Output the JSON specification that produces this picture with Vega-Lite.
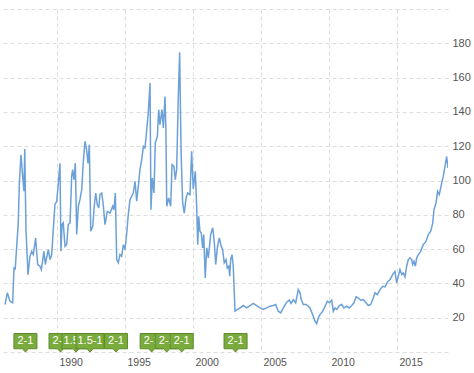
{
  "$schema": "https://vega.github.io/schema/vega-lite/v6.json",
  "width": 448,
  "height": 343,
  "autosize": {"type": "none"},
  "padding": {"left": 0, "top": 9, "right": 26, "bottom": 21},
  "background": "#ffffff",
  "config": {"view": {"stroke": null}},
  "datasets": {
    "series": [
      {"t":1986.18,"v":27.7},{"t":1986.35,"v":34.5},{"t":1986.54,"v":29.6},{"t":1986.74,"v":28.7},{"t":1986.84,"v":49},{"t":1986.93,"v":48.5},
      {"t":1987.15,"v":75},{"t":1987.23,"v":97.6},{"t":1987.35,"v":115},{"t":1987.48,"v":102},{"t":1987.57,"v":93.7},{"t":1987.63,"v":118.4},
      {"t":1987.72,"v":71},{"t":1987.87,"v":45},{"t":1988.01,"v":55.8},{"t":1988.14,"v":58.7},{"t":1988.26,"v":56.8},{"t":1988.43,"v":66.5},
      {"t":1988.58,"v":51},{"t":1988.75,"v":50},{"t":1988.85,"v":48},{"t":1989.04,"v":58.7},{"t":1989.14,"v":51},{"t":1989.36,"v":59.7},
      {"t":1989.49,"v":53.9},{"t":1989.61,"v":56.8},{"t":1989.73,"v":71.4},{"t":1989.85,"v":86},{"t":1989.98,"v":87.9},{"t":1990.10,"v":98.6},
      {"t":1990.22,"v":110},{"t":1990.29,"v":58.7},{"t":1990.37,"v":74.3},{"t":1990.46,"v":75.3},{"t":1990.59,"v":61.6},{"t":1990.71,"v":62.6},
      {"t":1990.83,"v":74.3},{"t":1990.96,"v":75.3},{"t":1991.08,"v":102.4},{"t":1991.15,"v":106.3},{"t":1991.25,"v":100.5},{"t":1991.35,"v":110.2},
      {"t":1991.45,"v":68.5},{"t":1991.57,"v":85},{"t":1991.69,"v":88.8},{"t":1991.82,"v":94.7},{"t":1991.93,"v":110.2},{"t":1992.06,"v":122.8},
      {"t":1992.18,"v":118},{"t":1992.28,"v":110},{"t":1992.38,"v":120.9},{"t":1992.48,"v":70.4},{"t":1992.63,"v":73.3},{"t":1992.74,"v":85},
      {"t":1992.85,"v":92.7},{"t":1992.96,"v":86},{"t":1993.07,"v":84},{"t":1993.16,"v":91.8},{"t":1993.29,"v":92.7},{"t":1993.40,"v":86},
      {"t":1993.53,"v":74.3},{"t":1993.70,"v":82},{"t":1993.90,"v":81},{"t":1994.10,"v":85},{"t":1994.19,"v":83},{"t":1994.29,"v":92.7},
      {"t":1994.39,"v":53.9},{"t":1994.51,"v":52},{"t":1994.63,"v":56.8},{"t":1994.76,"v":55.8},{"t":1994.88,"v":62.6},{"t":1995.00,"v":59.7},
      {"t":1995.13,"v":69.4},{"t":1995.24,"v":80},{"t":1995.37,"v":88.8},{"t":1995.49,"v":90.8},{"t":1995.61,"v":92.7},{"t":1995.74,"v":99.5},
      {"t":1995.86,"v":87.9},{"t":1995.98,"v":96.6},{"t":1996.10,"v":106.3},{"t":1996.23,"v":112.1},{"t":1996.35,"v":119.9},{"t":1996.47,"v":119},
      {"t":1996.60,"v":129.6},{"t":1996.71,"v":139.4},{"t":1996.84,"v":156.8},{"t":1996.91,"v":83},{"t":1997.01,"v":101.5},{"t":1997.13,"v":92.7},
      {"t":1997.23,"v":121.9},{"t":1997.38,"v":125.7},{"t":1997.48,"v":141.3},{"t":1997.57,"v":132.5},{"t":1997.72,"v":141.3},{"t":1997.82,"v":130.6},
      {"t":1997.94,"v":149},{"t":1998.01,"v":129.6},{"t":1998.07,"v":85},{"t":1998.21,"v":89.8},{"t":1998.36,"v":85},{"t":1998.46,"v":109.2},
      {"t":1998.60,"v":108.2},{"t":1998.70,"v":100.5},{"t":1998.80,"v":106.3},{"t":1998.92,"v":149},{"t":1999.02,"v":174.7},{"t":1999.12,"v":118},
      {"t":1999.24,"v":86.9},{"t":1999.36,"v":81},{"t":1999.49,"v":89.8},{"t":1999.61,"v":92.7},{"t":1999.78,"v":91.8},{"t":1999.90,"v":117},
      {"t":2000.02,"v":95},{"t":2000.17,"v":105.3},{"t":2000.27,"v":85},{"t":2000.35,"v":62.6},{"t":2000.42,"v":79.1},{"t":2000.51,"v":70.4},
      {"t":2000.61,"v":69.4},{"t":2000.71,"v":60.7},{"t":2000.79,"v":68.5},{"t":2000.90,"v":43.2},{"t":2001.01,"v":60.7},{"t":2001.13,"v":54.9},
      {"t":2001.30,"v":68.5},{"t":2001.45,"v":72.4},{"t":2001.57,"v":63.6},{"t":2001.67,"v":51},{"t":2001.79,"v":60.7},{"t":2001.93,"v":66.5},
      {"t":2002.08,"v":61.6},{"t":2002.18,"v":59.7},{"t":2002.30,"v":52},{"t":2002.43,"v":53.9},{"t":2002.52,"v":49},{"t":2002.63,"v":50},
      {"t":2002.70,"v":44.2},{"t":2002.77,"v":53.9},{"t":2002.87,"v":56.8},{"t":2002.96,"v":50},{"t":2003.09,"v":23.8},{"t":2003.46,"v":25.7},
      {"t":2003.70,"v":27.1},{"t":2003.95,"v":25.7},{"t":2004.19,"v":27.1},{"t":2004.43,"v":28.3},{"t":2004.68,"v":27.1},{"t":2004.93,"v":25.7},
      {"t":2005.17,"v":24.8},{"t":2005.42,"v":25.7},{"t":2005.66,"v":26.7},{"t":2005.90,"v":27.1},{"t":2006.08,"v":27.7},{"t":2006.27,"v":23.8},
      {"t":2006.45,"v":22.8},{"t":2006.64,"v":25.7},{"t":2006.89,"v":29},{"t":2007.08,"v":30.2},{"t":2007.21,"v":28.3},{"t":2007.38,"v":30.6},
      {"t":2007.55,"v":28.7},{"t":2007.74,"v":36.4},{"t":2007.87,"v":34.5},{"t":2007.96,"v":30.6},{"t":2008.11,"v":27.7},{"t":2008.31,"v":27.7},
      {"t":2008.48,"v":26.7},{"t":2008.60,"v":25.7},{"t":2008.80,"v":21.8},{"t":2008.97,"v":17.9},{"t":2009.10,"v":16.6},{"t":2009.21,"v":19.9},
      {"t":2009.34,"v":21.8},{"t":2009.54,"v":23.8},{"t":2009.71,"v":26.7},{"t":2009.88,"v":29.6},{"t":2010.03,"v":28.7},{"t":2010.20,"v":30.2},
      {"t":2010.32,"v":23.8},{"t":2010.44,"v":25.7},{"t":2010.57,"v":24.8},{"t":2010.76,"v":27.1},{"t":2010.93,"v":27.7},{"t":2011.10,"v":25.7},
      {"t":2011.30,"v":26.7},{"t":2011.49,"v":25.7},{"t":2011.67,"v":27.1},{"t":2011.84,"v":28.7},{"t":2011.99,"v":32.2},{"t":2012.15,"v":31.6},
      {"t":2012.33,"v":30.2},{"t":2012.52,"v":30.6},{"t":2012.72,"v":28.7},{"t":2012.89,"v":27.1},{"t":2013.07,"v":27.7},{"t":2013.26,"v":31.6},
      {"t":2013.38,"v":34.5},{"t":2013.55,"v":33.5},{"t":2013.75,"v":36.4},{"t":2013.95,"v":38.3},{"t":2014.12,"v":38},{"t":2014.29,"v":40.7},
      {"t":2014.49,"v":42.2},{"t":2014.68,"v":45.1},{"t":2014.85,"v":47},{"t":2014.98,"v":40.3},{"t":2015.10,"v":44.2},{"t":2015.22,"v":48},
      {"t":2015.35,"v":45.1},{"t":2015.46,"v":46.1},{"t":2015.59,"v":43.8},{"t":2015.71,"v":50},{"t":2015.83,"v":53.9},{"t":2015.96,"v":54.9},
      {"t":2016.08,"v":53.9},{"t":2016.15,"v":51},{"t":2016.25,"v":52.9},{"t":2016.35,"v":50},{"t":2016.45,"v":54.9},{"t":2016.57,"v":56.8},
      {"t":2016.74,"v":58.7},{"t":2016.93,"v":62.6},{"t":2017.13,"v":64.5},{"t":2017.30,"v":68.5},{"t":2017.48,"v":70.4},{"t":2017.63,"v":75.3},
      {"t":2017.72,"v":83},{"t":2017.87,"v":86.9},{"t":2017.99,"v":93.7},{"t":2018.11,"v":91.8},{"t":2018.29,"v":98.6},{"t":2018.40,"v":102.4},
      {"t":2018.53,"v":108.2},{"t":2018.65,"v":114},{"t":2018.75,"v":107.3}
    ],
    "splits": [
      {"n":1,"t":1987.68,"label":"2-1"},
      {"n":2,"t":1990.26,"label":"2-1"},
      {"n":3,"t":1991.40,"label":"1.5-1"},
      {"n":4,"t":1992.43,"label":"1.5-1"},
      {"n":5,"t":1994.34,"label":"2-1"},
      {"n":6,"t":1996.96,"label":"2-1"},
      {"n":7,"t":1998.07,"label":"2-1"},
      {"n":8,"t":1999.17,"label":"2-1"},
      {"n":9,"t":2003.13,"label":"2-1"}
    ]
  },
  "encoding": {
    "x": {
      "field": "t", "type": "quantitative",
      "scale": {"domain": [1985.81, 2018.75], "nice": false, "zero": false},
      "axis": {
        "values": [1990, 1995, 2000, 2005, 2010, 2015], "format": "d", "title": null,
        "domain": false, "ticks": false, "grid": true, "gridDash": [4, 3], "gridColor": "#dcdcdc",
        "labelAlign": "left", "labelOffset": 2, "labelPadding": 5, "labelFontSize": 10.5,
        "labelColor": "#555555", "labelFont": "Liberation Sans", "labelOverlap": false
      }
    }
  },
  "layer": [
    {
      "data": {"name": "series"},
      "mark": {"type": "line", "color": "#6ca0d8", "strokeWidth": 1.5, "clip": true},
      "encoding": {
        "y": {
          "field": "v", "type": "quantitative",
          "scale": {"domain": [0, 200], "nice": false},
          "axis": {
            "orient": "right", "values": [0, 20, 40, 60, 80, 100, 120, 140, 160, 180, 200],
            "labelExpr": "datum.value == 0 || datum.value == 200 ? '' : datum.label",
            "title": null, "domain": false, "ticks": false, "grid": true, "gridDash": [4, 3], "gridColor": "#dcdcdc",
            "labelPadding": 4, "labelFontSize": 11, "labelColor": "#555555", "labelFont": "Liberation Sans", "labelOverlap": false
          }
        }
      }
    },
    {"data": {"name": "splits"}, "transform": [{"filter": {"field": "n", "oneOf": [1, 2, 6, 9]}}],
     "encoding": {"y": {"datum": 0, "type": "quantitative", "scale": {"domain": [0, 200], "nice": false},
          "axis": {
            "orient": "right", "values": [0, 20, 40, 60, 80, 100, 120, 140, 160, 180, 200],
            "labelExpr": "datum.value == 0 || datum.value == 200 ? '' : datum.label",
            "title": null, "domain": false, "ticks": false, "grid": true, "gridDash": [4, 3], "gridColor": "#dcdcdc",
            "labelPadding": 4, "labelFontSize": 11, "labelColor": "#555555", "labelFont": "Liberation Sans", "labelOverlap": false
          }}},
     "layer": [
       {"mark": {"type": "point", "filled": true, "fill": "#7aab3c", "stroke": "#5e8c2c", "strokeWidth": 1, "opacity": 1, "size": 576},
        "encoding": {"shape": {"condition": {"test": "datum.label == '1.5-1'", "value": "M-1.17,-1.54 L1.17,-1.54 L1.17,-0.27 L0.25,-0.27 L0,0 L-0.25,-0.27 L-1.17,-0.27 Z"}, "value": "M-0.96,-1.54 L0.96,-1.54 L0.96,-0.27 L0.25,-0.27 L0,0 L-0.25,-0.27 L-0.96,-0.27 Z"}}},
       {"mark": {"type": "text", "color": "#ffffff", "fontSize": 11, "font": "Liberation Sans", "dy": -11, "baseline": "middle"},
        "encoding": {"text": {"field": "label"}}}
     ]},
    {"data": {"name": "splits"}, "transform": [{"filter": {"field": "n", "oneOf": [3, 7]}}],
     "encoding": {"y": {"datum": 0, "type": "quantitative", "scale": {"domain": [0, 200], "nice": false},
          "axis": {
            "orient": "right", "values": [0, 20, 40, 60, 80, 100, 120, 140, 160, 180, 200],
            "labelExpr": "datum.value == 0 || datum.value == 200 ? '' : datum.label",
            "title": null, "domain": false, "ticks": false, "grid": true, "gridDash": [4, 3], "gridColor": "#dcdcdc",
            "labelPadding": 4, "labelFontSize": 11, "labelColor": "#555555", "labelFont": "Liberation Sans", "labelOverlap": false
          }}},
     "layer": [
       {"mark": {"type": "point", "filled": true, "fill": "#7aab3c", "stroke": "#5e8c2c", "strokeWidth": 1, "opacity": 1, "size": 576},
        "encoding": {"shape": {"condition": {"test": "datum.label == '1.5-1'", "value": "M-1.17,-1.54 L1.17,-1.54 L1.17,-0.27 L0.25,-0.27 L0,0 L-0.25,-0.27 L-1.17,-0.27 Z"}, "value": "M-0.96,-1.54 L0.96,-1.54 L0.96,-0.27 L0.25,-0.27 L0,0 L-0.25,-0.27 L-0.96,-0.27 Z"}}},
       {"mark": {"type": "text", "color": "#ffffff", "fontSize": 11, "font": "Liberation Sans", "dy": -11, "baseline": "middle"},
        "encoding": {"text": {"field": "label"}}}
     ]},
    {"data": {"name": "splits"}, "transform": [{"filter": {"field": "n", "oneOf": [4, 8]}}],
     "encoding": {"y": {"datum": 0, "type": "quantitative", "scale": {"domain": [0, 200], "nice": false},
          "axis": {
            "orient": "right", "values": [0, 20, 40, 60, 80, 100, 120, 140, 160, 180, 200],
            "labelExpr": "datum.value == 0 || datum.value == 200 ? '' : datum.label",
            "title": null, "domain": false, "ticks": false, "grid": true, "gridDash": [4, 3], "gridColor": "#dcdcdc",
            "labelPadding": 4, "labelFontSize": 11, "labelColor": "#555555", "labelFont": "Liberation Sans", "labelOverlap": false
          }}},
     "layer": [
       {"mark": {"type": "point", "filled": true, "fill": "#7aab3c", "stroke": "#5e8c2c", "strokeWidth": 1, "opacity": 1, "size": 576},
        "encoding": {"shape": {"condition": {"test": "datum.label == '1.5-1'", "value": "M-1.17,-1.54 L1.17,-1.54 L1.17,-0.27 L0.25,-0.27 L0,0 L-0.25,-0.27 L-1.17,-0.27 Z"}, "value": "M-0.96,-1.54 L0.96,-1.54 L0.96,-0.27 L0.25,-0.27 L0,0 L-0.25,-0.27 L-0.96,-0.27 Z"}}},
       {"mark": {"type": "text", "color": "#ffffff", "fontSize": 11, "font": "Liberation Sans", "dy": -11, "baseline": "middle"},
        "encoding": {"text": {"field": "label"}}}
     ]},
    {"data": {"name": "splits"}, "transform": [{"filter": {"field": "n", "oneOf": [5]}}],
     "encoding": {"y": {"datum": 0, "type": "quantitative", "scale": {"domain": [0, 200], "nice": false},
          "axis": {
            "orient": "right", "values": [0, 20, 40, 60, 80, 100, 120, 140, 160, 180, 200],
            "labelExpr": "datum.value == 0 || datum.value == 200 ? '' : datum.label",
            "title": null, "domain": false, "ticks": false, "grid": true, "gridDash": [4, 3], "gridColor": "#dcdcdc",
            "labelPadding": 4, "labelFontSize": 11, "labelColor": "#555555", "labelFont": "Liberation Sans", "labelOverlap": false
          }}},
     "layer": [
       {"mark": {"type": "point", "filled": true, "fill": "#7aab3c", "stroke": "#5e8c2c", "strokeWidth": 1, "opacity": 1, "size": 576},
        "encoding": {"shape": {"condition": {"test": "datum.label == '1.5-1'", "value": "M-1.17,-1.54 L1.17,-1.54 L1.17,-0.27 L0.25,-0.27 L0,0 L-0.25,-0.27 L-1.17,-0.27 Z"}, "value": "M-0.96,-1.54 L0.96,-1.54 L0.96,-0.27 L0.25,-0.27 L0,0 L-0.25,-0.27 L-0.96,-0.27 Z"}}},
       {"mark": {"type": "text", "color": "#ffffff", "fontSize": 11, "font": "Liberation Sans", "dy": -11, "baseline": "middle"},
        "encoding": {"text": {"field": "label"}}}
     ]}
  ]
}
